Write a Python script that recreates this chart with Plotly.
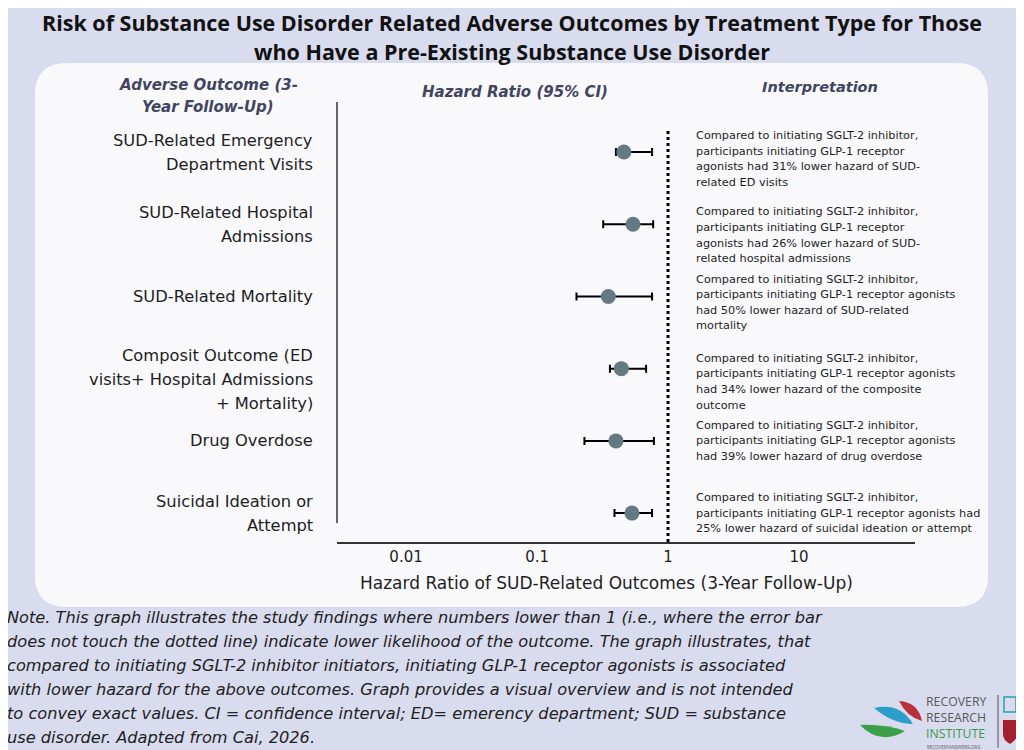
import plotly.graph_objects as go

# data
outcomes = [
    ["SUD-Related Emergency", "Department Visits"],
    ["SUD-Related Hospital", "Admissions"],
    ["SUD-Related Mortality"],
    ["Composit Outcome (ED", "visits+ Hospital Admissions", "+ Mortality)"],
    ["Drug Overdose"],
    ["Suicidal Ideation or", "Attempt"],
]
hr = [0.46, 0.54, 0.35, 0.44, 0.40, 0.53]
ci_low = [0.40, 0.32, 0.20, 0.36, 0.23, 0.39]
ci_high = [0.755, 0.77, 0.755, 0.68, 0.78, 0.755]
interpretation = [
    ["Compared to initiating SGLT-2 inhibitor,", "participants initiating GLP-1 receptor",
     "agonists had 31% lower hazard of SUD-", "related ED visits"],
    ["Compared to initiating SGLT-2 inhibitor,", "participants initiating GLP-1 receptor",
     "agonists had 26% lower hazard of SUD-", "related hospital admissions"],
    ["Compared to initiating SGLT-2 inhibitor,", "participants initiating GLP-1 receptor agonists",
     "had 50% lower hazard of SUD-related", "mortality"],
    ["Compared to initiating SGLT-2 inhibitor,", "participants initiating GLP-1 receptor agonists",
     "had 34% lower hazard of the composite", "outcome"],
    ["Compared to initiating SGLT-2 inhibitor,", "participants initiating GLP-1 receptor agonists",
     "had 39% lower hazard of drug overdose"],
    ["Compared to initiating SGLT-2 inhibitor,", "participants initiating GLP-1 receptor agonists had",
     "25% lower hazard of suicidal ideation or attempt"],
]
tick_vals = [0.01, 0.1, 1, 10]
tick_text = ["0.01", "0.1", "1", "10"]

title_lines = ["Risk of Substance Use Disorder Related Adverse Outcomes by Treatment Type for Those",
               "who Have a Pre-Existing Substance Use Disorder"]
note_lines = [
    "Note. This graph illustrates the study findings where numbers lower than 1 (i.e., where the error bar",
    "does not touch the dotted line) indicate lower likelihood of the outcome. The graph illustrates, that",
    "compared to initiating SGLT-2 inhibitor initiators, initiating GLP-1 receptor agonists is associated",
    "with lower hazard for the above outcomes. Graph provides a visual overview and is not intended",
    "to convey exact values. CI = confidence interval; ED= emerency department; SUD = substance",
    "use disorder. Adapted from Cai, 2026.",
]

FONT = "DejaVu Sans"
TFONT = "Open Sans"
BG = "#d9dbee"
PANEL = "#f9f9fc"
HEAD = "#41455f"
DOT = "#647a82"
TXT = "#1e1e1e"

# the page body adds an 8px margin, so the figure is drawn 8px in from the corner
OFF = 8
# plot area in screen pixels
L, R, T, B = 337, 915, 100, 542
W, H = R - L, B - T

# small vertical nudges (px, positive = up) so text sits where the reference has it
label_nudge = [0, 0, 0, -11, 0, 0]
interp_nudge = [-7, -11, -6, -13, 0, 0]


def px(x):
    return (x - L) / W


def py(y):
    return (B - y) / H


rows = list(range(len(outcomes)))

fig = go.Figure()
fig.add_trace(go.Scatter(
    x=hr, y=rows, mode="markers",
    marker=dict(size=15, color=DOT),
    error_x=dict(type="data", symmetric=False,
                 array=[h - m for h, m in zip(ci_high, hr)],
                 arrayminus=[m - l for m, l in zip(hr, ci_low)],
                 color="black", thickness=2, width=4),
    hoverinfo="skip", showlegend=False,
))

# rounded white panel
x0, x1, y0, y1, r = 35, 988, 63, 607, 32
pts = [("M", x0 + r, y0), ("L", x1 - r, y0), ("Q", x1, y0, x1, y0 + r), ("L", x1, y1 - r),
       ("Q", x1, y1, x1 - r, y1), ("L", x0 + r, y1), ("Q", x0, y1, x0, y1 - r),
       ("L", x0, y0 + r), ("Q", x0, y0, x0 + r, y0)]
path = ""
for p in pts:
    nums = p[1:]
    seg = " ".join("%.4f,%.4f" % (px(nums[i]), py(nums[i + 1])) for i in range(0, len(nums), 2))
    path += p[0] + seg + " "
path += "Z"

shapes = [
    dict(type="path", path=path, xref="paper", yref="paper", fillcolor=PANEL,
         line=dict(width=0), layer="below"),
    # y axis line
    dict(type="line", xref="paper", yref="paper", x0=0, x1=0, y0=py(523), y1=py(102),
         line=dict(color="#333333", width=1.5)),
    # reference line at HR = 1
    dict(type="line", xref="x", yref="paper", x0=1, x1=1, y0=0, y1=py(128),
         line=dict(color="black", width=3, dash="dot")),
]


def leaf(a, c1, b, c2, color):
    s = "M%.4f,%.4f Q%.4f,%.4f %.4f,%.4f Q%.4f,%.4f %.4f,%.4f Z" % (
        px(a[0]), py(a[1]), px(c1[0]), py(c1[1]), px(b[0]), py(b[1]),
        px(c2[0]), py(c2[1]), px(a[0]), py(a[1]))
    return dict(type="path", path=s, xref="paper", yref="paper", fillcolor=color,
                line=dict(width=0))


# logo marks
shapes += [
    leaf((874, 708), (900, 702), (913, 724), (893, 724), "#2b9fc9"),
    leaf((899, 701), (918, 702), (922, 721), (907, 717), "#b8303a"),
    leaf((860, 725), (880, 746), (905, 731), (885, 724), "#3aa04a"),
    dict(type="line", xref="paper", yref="paper", x0=px(998), x1=px(998), y0=py(748), y1=py(695),
         line=dict(color="#555555", width=1)),
    dict(type="rect", xref="paper", yref="paper", x0=px(1004), x1=px(1016), y0=py(712), y1=py(697),
         line=dict(color="#2b9fb0", width=1.5), fillcolor="rgba(0,0,0,0)"),
    dict(type="path", xref="paper", yref="paper",
         path="M%.4f,%.4f L%.4f,%.4f L%.4f,%.4f Q%.4f,%.4f %.4f,%.4f Q%.4f,%.4f %.4f,%.4f Z" % (
             px(1003), py(720), px(1017), py(720), px(1017), py(734), px(1017), py(740),
             px(1010), py(744), px(1003), py(740), px(1003), py(734)),
         fillcolor="#a5202e", line=dict(width=0)),
]

ann = []


def lines_at(lines, x, y, yref, gap, anchor, font, nudge=0):
    # one annotation per line so the line spacing can follow the reference
    n = len(lines)
    for k, s in enumerate(lines):
        ann.append(dict(text=s, x=x, y=y, xref="paper", yref=yref, showarrow=False,
                        xanchor=anchor, yanchor="middle", borderpad=0,
                        yshift=((n - 1) / 2 - k) * gap + nudge, font=font))


# title
lines_at(["<b>%s</b>" % s for s in title_lines], px(512), py(36.5), "paper", 29, "center",
         dict(family=TFONT, size=21.5, color="#111111"))
# column headers
hfont = dict(family=FONT, size=15, color=HEAD)
lines_at(["<b><i>Adverse Outcome (3-</i></b>", "<b><i>Year Follow-Up)</i></b>"],
         px(208), py(96), "paper", 22, "center", hfont)
lines_at(["<b><i>Hazard Ratio (95% CI)</i></b>"], px(515), py(92), "paper", 0, "center", hfont)
lines_at(["<b><i>Interpretation</i></b>"], px(820), py(87), "paper", 0, "center",
         dict(family=FONT, size=14.5, color=HEAD))
# row labels and interpretations
for i, (lab, txt) in enumerate(zip(outcomes, interpretation)):
    lines_at(lab, px(314), i, "y", 24, "right", dict(family=FONT, size=16.3, color=TXT),
             label_nudge[i])
    lines_at(txt, px(695), i, "y", 15.6, "left", dict(family=FONT, size=11.3, color=TXT),
             interp_nudge[i])
# x axis title, centred where the reference has it
lines_at(["Hazard Ratio of SUD-Related Outcomes (3-Year Follow-Up)"], px(606), py(583), "paper", 0,
         "center", dict(family=FONT, size=17, color=TXT))
# note
lines_at(["<i>%s</i>" % s for s in note_lines], px(6), py(677), "paper", 24, "left",
         dict(family=FONT, size=16.2, color="#222222"))
# logo text
ann.append(dict(text="RECOVERY<br>RESEARCH<br><span style='color:#3a9a4a'>INSTITUTE</span>",
                x=px(925), y=py(717), xref="paper", yref="paper", showarrow=False,
                xanchor="left", yanchor="middle", align="left", borderpad=0,
                font=dict(family=TFONT, size=12.3, color="#5a5a5a")))
ann.append(dict(text="RECOVERYANSWERS.ORG", x=px(926), y=py(747), xref="paper", yref="paper",
                showarrow=False, xanchor="left", yanchor="middle", borderpad=0,
                font=dict(family=TFONT, size=4.5, color="#5a5a5a")))

fig.update_layout(
    width=1024 - OFF, height=750 - OFF,
    margin=dict(l=L - OFF, r=1024 - R, t=T - OFF, b=750 - B, pad=0),
    paper_bgcolor=BG, plot_bgcolor="rgba(0,0,0,0)",
    shapes=shapes, annotations=ann,
    xaxis=dict(type="log", range=[-2.527, 1.885], tickvals=tick_vals, ticktext=tick_text,
               showgrid=False, zeroline=False, showline=True, linecolor="#333333", linewidth=1.5,
               ticks="", tickfont=dict(family=FONT, size=15, color=TXT)),
    yaxis=dict(range=[5.40, -0.72], showgrid=False, zeroline=False, showticklabels=False,
               showline=False, ticks=""),
    font=dict(family=FONT),
)

fig.write_html("out.html")
